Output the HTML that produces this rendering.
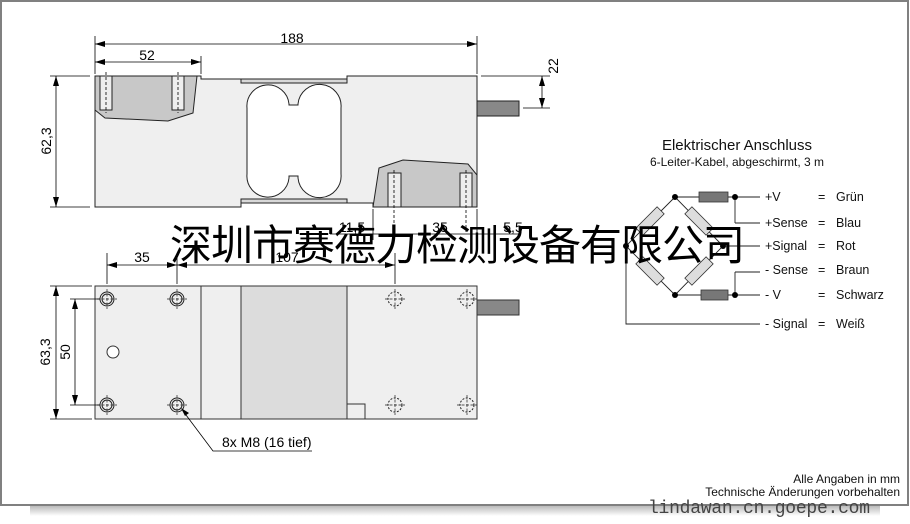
<!DOCTYPE html>
<html><head><meta charset="utf-8"><style>
html,body{margin:0;padding:0;background:#fff;}
svg{display:block;font-family:"Liberation Sans",Arial,sans-serif;}
</style></head><body>
<svg width="910" height="524" viewBox="0 0 910 524" xmlns="http://www.w3.org/2000/svg">
<defs>
<linearGradient id="sh" x1="0" y1="0" x2="0" y2="1"><stop offset="0" stop-color="#bbb"/><stop offset="1" stop-color="#fff"/></linearGradient>
<marker id="a" viewBox="0 0 10 6" refX="10" refY="3" markerWidth="10" markerHeight="6" orient="auto-start-reverse" markerUnits="userSpaceOnUse"><path d="M0,0 L10,3 L0,6 Z" fill="#000"/></marker>
</defs>
<rect x="0" y="0" width="910" height="524" fill="#fff"/>
<rect x="30" y="506" width="850" height="10" fill="url(#sh)"/>
<rect x="1" y="1" width="907" height="504" fill="#fff" stroke="#808080" stroke-width="2"/>

<!-- TOP VIEW -->
<g stroke="#222" stroke-width="1">
<path d="M95,76 L201,76 L201,79 L347,79 L347,76 L477,76 L477,207 L373,207 L373,203 L347,203 L241,203 L241,207 L95,207 Z" fill="#efefef"/>
<rect x="241" y="79" width="106" height="4" fill="#d8d8d8"/>
<rect x="241" y="199" width="106" height="4" fill="#d8d8d8"/>
<path d="M95,76 L197,76 L193,113 L168,121 L105,118 L95,110 Z" fill="#c8c8c8"/>
<path d="M373,207 L379,168 L403,160 L468,164 L477,175 L477,207 Z" fill="#c8c8c8"/>
<rect x="100" y="76" width="12" height="34" fill="#eee"/>
<rect x="172" y="76" width="12" height="34" fill="#eee"/>
<rect x="388" y="173" width="13" height="34" fill="#eee"/>
<rect x="460" y="173" width="12" height="34" fill="#eee"/>
<path d="M247,108 A21,21 0 0 1 289,104 L289,105 L298,105 L298,104 A21,21 0 0 1 341,108 L341,174 A21,21 0 0 1 298,178 L298,176 L289,176 L289,178 A21,21 0 0 1 247,174 Z" fill="#fff"/>
<rect x="477" y="101" width="42" height="15" fill="#888"/>
</g>
<g stroke="#000" stroke-width="0.8" stroke-dasharray="3,2">
<line x1="106" y1="72" x2="106" y2="113"/><line x1="178" y1="72" x2="178" y2="113"/>
<line x1="394" y1="170" x2="394" y2="232"/><line x1="466" y1="170" x2="466" y2="232"/>
</g>
<g stroke="#000" stroke-width="0.8" fill="none">
<line x1="95" y1="36" x2="95" y2="74"/><line x1="477" y1="36" x2="477" y2="74"/><line x1="201" y1="56" x2="201" y2="74"/>
<line x1="95" y1="44" x2="477" y2="44" marker-start="url(#a)" marker-end="url(#a)"/>
<line x1="95" y1="62" x2="201" y2="62" marker-start="url(#a)" marker-end="url(#a)"/>
<line x1="50" y1="76" x2="90" y2="76"/><line x1="50" y1="207" x2="90" y2="207"/>
<line x1="56" y1="76" x2="56" y2="207" marker-start="url(#a)" marker-end="url(#a)"/>
<line x1="481" y1="76" x2="550" y2="76"/><line x1="523" y1="108" x2="550" y2="108"/>
<line x1="542" y1="76" x2="542" y2="108" marker-start="url(#a)" marker-end="url(#a)"/>
<line x1="373" y1="209" x2="373" y2="240"/><line x1="477" y1="209" x2="477" y2="240"/>
<line x1="330" y1="234" x2="520" y2="234"/>
</g>
<g font-size="14" fill="#000">
<text x="292" y="43" text-anchor="middle">188</text>
<text x="147" y="60" text-anchor="middle">52</text>
<text transform="translate(51,141) rotate(-90)" text-anchor="middle">62,3</text>
<text transform="translate(558,66) rotate(-90)" text-anchor="middle">22</text>
<text x="352" y="232" text-anchor="middle">11,5</text>
<text x="440" y="232" text-anchor="middle">35</text>
<text x="513" y="232" text-anchor="middle">5,5</text>
</g>

<!-- BOTTOM VIEW -->
<g stroke="#333" stroke-width="1">
<rect x="95" y="286" width="382" height="133" fill="#efefef"/>
<rect x="241" y="286" width="106" height="133" fill="#dcdcdc"/>
<line x1="201" y1="286" x2="201" y2="419"/>
<path d="M347,404 L365,404 L365,419" fill="none"/>
<rect x="477" y="300" width="42" height="15" fill="#888"/>
<circle cx="113" cy="352" r="6" fill="#fff"/>
</g>
<g fill="none" stroke="#222" stroke-width="1">
<circle cx="107" cy="299" r="7"/><circle cx="107" cy="299" r="5"/>
<circle cx="177" cy="299" r="7"/><circle cx="177" cy="299" r="5"/>
<circle cx="107" cy="405" r="7"/><circle cx="107" cy="405" r="5"/>
<circle cx="177" cy="405" r="7"/><circle cx="177" cy="405" r="5"/>
<g stroke-dasharray="2,1.5"><circle cx="395" cy="299" r="7"/><circle cx="467" cy="299" r="7"/><circle cx="395" cy="405" r="7"/><circle cx="467" cy="405" r="7"/></g>
<g stroke-width="0.7" stroke-dasharray="3,1.5">
<path d="M97,299h20M107,289v20M167,299h20M177,289v20M97,405h20M107,395v20M167,405h20M177,395v20M385,299h20M395,289v20M457,299h20M467,289v20M385,405h20M395,395v20M457,405h20M467,395v20"/>
</g>
</g>
<g stroke="#000" stroke-width="0.8" fill="none">
<line x1="107" y1="253" x2="107" y2="284"/><line x1="177" y1="253" x2="177" y2="284"/><line x1="395" y1="253" x2="395" y2="284"/>
<line x1="107" y1="265" x2="177" y2="265" marker-start="url(#a)" marker-end="url(#a)"/>
<line x1="177" y1="265" x2="395" y2="265" marker-start="url(#a)" marker-end="url(#a)"/>
<line x1="50" y1="286" x2="92" y2="286"/><line x1="50" y1="419" x2="92" y2="419"/>
<line x1="56" y1="286" x2="56" y2="419" marker-start="url(#a)" marker-end="url(#a)"/>
<line x1="70" y1="299" x2="100" y2="299"/><line x1="70" y1="405" x2="100" y2="405"/>
<line x1="75" y1="299" x2="75" y2="405" marker-start="url(#a)" marker-end="url(#a)"/>
<path d="M312,451 L213,451 L183,411" />
</g>
<path d="M181,408 L189,413 L185,416 Z" fill="#000"/>
<g font-size="14" fill="#000">
<text x="142" y="262" text-anchor="middle">35</text>
<text x="287" y="262" text-anchor="middle">107</text>
<text transform="translate(50,352) rotate(-90)" text-anchor="middle">63,3</text>
<text transform="translate(70,352) rotate(-90)" text-anchor="middle">50</text>
<text x="222" y="447">8x M8 (16 tief)</text>
</g>

<!-- CIRCUIT -->
<g font-size="15" fill="#111"><text x="737" y="150" text-anchor="middle">Elektrischer Anschluss</text></g>
<g font-size="12" fill="#111"><text x="737" y="166" text-anchor="middle">6-Leiter-Kabel, abgeschirmt, 3 m</text></g>
<g stroke="#222" stroke-width="0.9" fill="none">
<path d="M675,197 L626,246 L675,295 L723,246 Z"/>
<line x1="675" y1="197" x2="760" y2="197"/><line x1="735" y1="197" x2="735" y2="223"/><line x1="735" y1="223" x2="760" y2="223"/>
<line x1="723" y1="246" x2="760" y2="246"/>
<line x1="675" y1="295" x2="760" y2="295"/><line x1="735" y1="272" x2="735" y2="295"/><line x1="735" y1="272" x2="760" y2="272"/>
<path d="M626,246 L626,324 L760,324"/>
</g>
<g fill="#ddd" stroke="#333" stroke-width="0.8">
<rect x="-15" y="-5" width="30" height="10" transform="translate(650,221) rotate(-45)"/>
<rect x="-15" y="-5" width="30" height="10" transform="translate(699,221) rotate(45)"/>
<rect x="-15" y="-5" width="30" height="10" transform="translate(650,271) rotate(45)"/>
<rect x="-15" y="-5" width="30" height="10" transform="translate(699,271) rotate(-45)"/>
</g>
<rect x="699" y="192" width="29" height="10" fill="#777" stroke="#333" stroke-width="0.8"/>
<rect x="701" y="290" width="27" height="10" fill="#777" stroke="#333" stroke-width="0.8"/>
<g fill="#000"><circle cx="675" cy="197" r="3"/><circle cx="735" cy="197" r="3"/><circle cx="675" cy="295" r="3"/><circle cx="735" cy="295" r="3"/><circle cx="626" cy="246" r="3"/><circle cx="723" cy="246" r="3"/></g>
<g font-size="12.5" fill="#111">
<text x="765" y="201">+V</text><text x="818" y="201">=</text><text x="836" y="201">Grün</text>
<text x="765" y="227">+Sense</text><text x="818" y="227">=</text><text x="836" y="227">Blau</text>
<text x="765" y="250">+Signal</text><text x="818" y="250">=</text><text x="836" y="250">Rot</text>
<text x="765" y="274">- Sense</text><text x="818" y="274">=</text><text x="836" y="274">Braun</text>
<text x="765" y="299">- V</text><text x="818" y="299">=</text><text x="836" y="299">Schwarz</text>
<text x="765" y="328">- Signal</text><text x="818" y="328">=</text><text x="836" y="328">Weiß</text>
</g>

<!-- Overlay Chinese -->
<text x="170" y="260" font-size="42" fill="#000" textLength="575" style='font-family:"Liberation Sans","Noto Sans CJK SC",sans-serif'>深圳市赛德力检测设备有限公司</text>

<g font-size="12" fill="#111" text-anchor="end">
<text x="900" y="483">Alle Angaben in mm</text>
<text x="900" y="496">Technische Änderungen vorbehalten</text>
</g>
<text x="648" y="513" font-size="18" fill="#444" textLength="222" style='font-family:"Liberation Mono",monospace'>lindawan.cn.goepe.com</text>
</svg>
</body></html>
